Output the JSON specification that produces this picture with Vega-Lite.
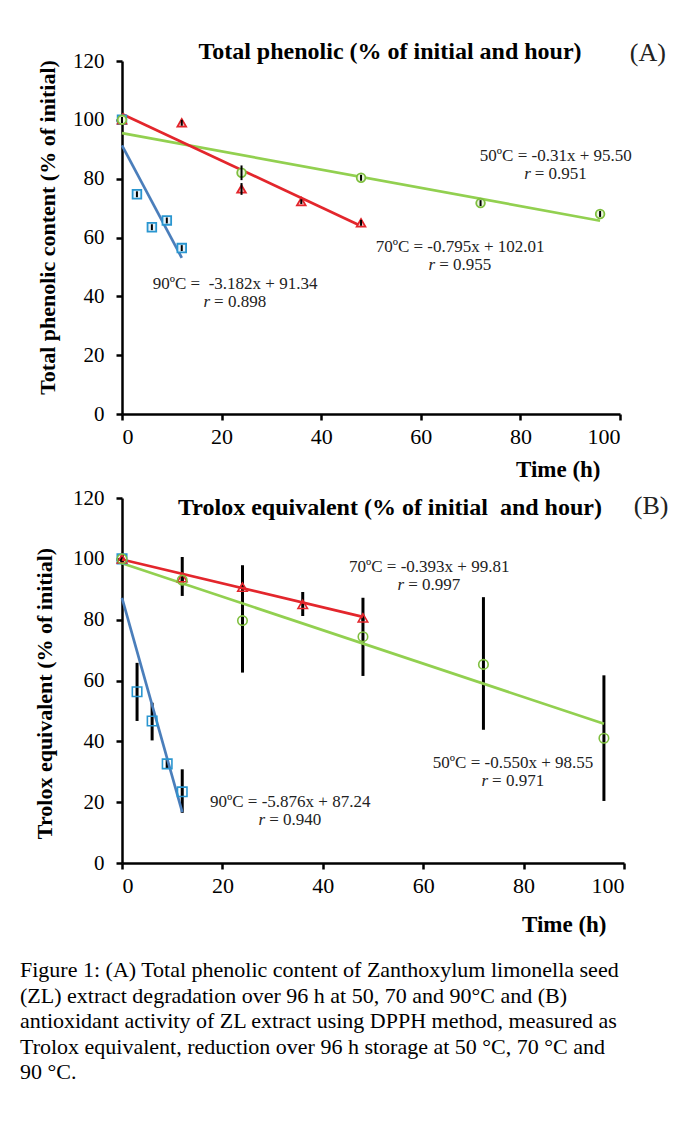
{
  "$schema": "https://vega.github.io/schema/vega-lite/v6.json",
  "background": "white",
  "padding": {"left": 20, "top": 40, "right": 0, "bottom": 0},
  "config": {
    "font": "Liberation Serif",
    "view": {"stroke": null},
    "axis": {
      "domainColor": "black", "domainWidth": 2.5, "tickColor": "black", "tickWidth": 2.5, "tickSize": 6,
      "labelColor": "black", "titleColor": "black", "grid": false,
      "labelFont": "Liberation Serif", "titleFont": "Liberation Serif"
    },
    "title": {"color": "black", "font": "Liberation Serif"},
    "text": {"font": "Liberation Serif"}
  },
  "datasets": {
    "tpc": [
      {"series": "90", "t": 0, "v": 100, "lo": 99, "hi": 101},
      {"series": "90", "t": 3, "v": 74.7, "lo": 73.7, "hi": 75.7},
      {"series": "90", "t": 6, "v": 63.5, "lo": 62.5, "hi": 64.5},
      {"series": "90", "t": 9, "v": 65.8, "lo": 64.8, "hi": 66.8},
      {"series": "90", "t": 12, "v": 56.4, "lo": 55.4, "hi": 57.4},
      {"series": "70", "t": 0, "v": 100, "lo": 99, "hi": 101},
      {"series": "70", "t": 12, "v": 99, "lo": 98, "hi": 100},
      {"series": "70", "t": 24, "v": 76.5, "lo": 74.5, "hi": 78.5},
      {"series": "70", "t": 36, "v": 72.2, "lo": 71.4, "hi": 73},
      {"series": "70", "t": 48, "v": 65, "lo": 64, "hi": 66},
      {"series": "50", "t": 0, "v": 100, "lo": 99, "hi": 101},
      {"series": "50", "t": 24, "v": 82, "lo": 79.5, "hi": 84.5},
      {"series": "50", "t": 48, "v": 80.3, "lo": 79.3, "hi": 81.3},
      {"series": "50", "t": 72, "v": 71.7, "lo": 70.7, "hi": 72.7},
      {"series": "50", "t": 96, "v": 68, "lo": 67, "hi": 69}
    ],
    "tpcFit": [
      {"series": "50", "t": 0, "v": 95.5},
      {"series": "50", "t": 96, "v": 65.7},
      {"series": "70", "t": 0, "v": 102},
      {"series": "70", "t": 48, "v": 63.9},
      {"series": "90", "t": 0, "v": 91.3},
      {"series": "90", "t": 12, "v": 53.1}
    ],
    "tpcNotes": [
      {"series": "50", "eq": "50ºC = -0.31x + 95.50", "r": "= 0.951", "t": 87.1, "v": 87.7},
      {"series": "70", "eq": "70ºC = -0.795x + 102.01", "r": "= 0.955", "t": 67.9, "v": 56.8},
      {"series": "90", "eq": "90ºC = \u00a0-3.182x + 91.34", "r": "= 0.898", "t": 22.7, "v": 44.2}
    ],
    "te": [
      {"series": "90", "t": 0, "v": 100, "lo": 99, "hi": 101},
      {"series": "90", "t": 3, "v": 56.3, "lo": 46.7, "hi": 65.8},
      {"series": "90", "t": 6, "v": 46.7, "lo": 40.3, "hi": 52.7},
      {"series": "90", "t": 9, "v": 32.6, "lo": 30.9, "hi": 34.2},
      {"series": "90", "t": 12, "v": 23.4, "lo": 16.5, "hi": 30.8},
      {"series": "70", "t": 0, "v": 100, "lo": 99, "hi": 101},
      {"series": "70", "t": 12, "v": 93.8, "lo": 87.8, "hi": 100.6},
      {"series": "70", "t": 24, "v": 90.7, "lo": 89.7, "hi": 91.7},
      {"series": "70", "t": 36, "v": 85, "lo": 81.2, "hi": 89.1},
      {"series": "70", "t": 48, "v": 80.6, "lo": 79.6, "hi": 81.6},
      {"series": "50", "t": 0, "v": 100, "lo": 99, "hi": 101},
      {"series": "50", "t": 12, "v": 93, "lo": 92, "hi": 94},
      {"series": "50", "t": 24, "v": 79.7, "lo": 62.6, "hi": 97.9},
      {"series": "50", "t": 48, "v": 74.4, "lo": 61.5, "hi": 87.2},
      {"series": "50", "t": 72, "v": 65.3, "lo": 43.8, "hi": 87.4},
      {"series": "50", "t": 96, "v": 41, "lo": 20.4, "hi": 61.7}
    ],
    "teFit": [
      {"series": "50", "t": 0, "v": 98.55},
      {"series": "50", "t": 96, "v": 45.75},
      {"series": "70", "t": 0, "v": 99.8},
      {"series": "70", "t": 48, "v": 80.9},
      {"series": "90", "t": 0, "v": 87.2},
      {"series": "90", "t": 12, "v": 16.7}
    ],
    "teNotes": [
      {"series": "70", "eq": "70ºC = -0.393x + 99.81", "r": "= 0.997", "t": 61.2, "v": 97.3},
      {"series": "90", "eq": "90ºC = -5.876x + 87.24", "r": "= 0.940", "t": 33.5, "v": 20.1},
      {"series": "50", "eq": "50ºC = -0.550x + 98.55", "r": "= 0.971", "t": 77.9, "v": 32.9}
    ]
  },
  "title": {
    "text": [
      "Figure 1: (A) Total phenolic content of Zanthoxylum limonella seed",
      "(ZL) extract degradation over 96 h at 50, 70 and 90°C and (B)",
      "antioxidant activity of ZL extract using DPPH method, measured as",
      "Trolox equivalent, reduction over 96 h storage at 50 °C, 70 °C and",
      "90 °C."
    ],
    "orient": "bottom", "anchor": "start", "frame": "bounds",
    "font": "Liberation Serif",
    "fontSize": 22, "fontWeight": "normal", "lineHeight": 25.5,
    "offset": 24, "dx": -13, "color": "black"
  },
  "spacing": 6,
  "vconcat": [
    {
      "width": 498, "height": 353,
      "title": {"text": "Total phenolic (% of initial and hour)", "font": "Liberation Serif", "fontSize": 24, "fontWeight": "bold", "frame": "group", "anchor": "middle", "dx": 19, "offset": -43, "baseline": "alphabetic"},
      "layer": [
        {
          "data": {"name": "tpcFit"},
          "mark": {"type": "line", "strokeWidth": 2.7},
          "encoding": {
            "x": {"field": "t", "type": "quantitative", "title": "Time (h)", "scale": {"domain": [0, 100], "nice": false},
                  "axis": {"values": [0, 20, 40, 60, 80, 100], "labelFont": "Liberation Serif", "titleFont": "Liberation Serif", "labelFontSize": 22, "labelPadding": 6, "titleFontSize": 23, "titleFontWeight": "bold", "titleAlign": "right", "titleAnchor": "end", "titleX": 478, "titleY": 55, "titleBaseline": "middle"}},
            "y": {"field": "v", "type": "quantitative", "title": "Total phenolic content (% of initial)", "scale": {"domain": [0, 120], "nice": false},
                  "axis": {"values": [0, 20, 40, 60, 80, 100, 120], "labelFont": "Liberation Serif", "titleFont": "Liberation Serif", "labelFontSize": 21, "labelPadding": 12, "titleFontSize": 22, "titleFontWeight": "bold", "titleAngle": -90, "titleAlign": "center", "titleBaseline": "middle", "titleX": -75, "titleY": 166}},
            "color": {"field": "series", "type": "nominal", "scale": {"domain": ["50", "70", "90"], "range": ["#92d050", "#e3262c", "#4a7ebb"]}, "legend": null},
            "detail": {"field": "series"}
          }
        },
        {
          "data": {"name": "tpc"},
          "mark": {"type": "point", "strokeWidth": 1.8, "opacity": 1},
          "encoding": {
            "x": {"field": "t", "type": "quantitative", "title": "Time (h)"},
            "y": {"field": "v", "type": "quantitative", "title": "Total phenolic content (% of initial)"},
            "shape": {"field": "series", "type": "nominal", "scale": {"domain": ["50", "70", "90"], "range": ["circle", "triangle-up", "square"]}, "legend": null},
            "stroke": {"field": "series", "type": "nominal", "scale": {"domain": ["50", "70", "90"], "range": ["#7fbf3f", "#e3262c", "#2a96d0"]}, "legend": null},
            "fill": {"field": "series", "type": "nominal", "scale": {"domain": ["50", "70", "90"], "range": ["#eaf5dc", "#f8c8c8", "#e6f2fa"]}, "legend": null},
            "size": {"value": 75}
          }
        },
        {
          "data": {"name": "tpc"},
          "mark": {"type": "rule", "color": "black", "strokeWidth": 2},
          "encoding": {
            "x": {"field": "t", "type": "quantitative", "title": "Time (h)"},
            "y": {"field": "lo", "type": "quantitative", "title": "Total phenolic content (% of initial)"},
            "y2": {"field": "hi"}
          }
        },
        {
          "data": {"name": "tpcNotes"},
          "mark": {"type": "text", "font": "Liberation Serif", "fontSize": 17, "align": "center", "baseline": "middle", "color": "#222222"},
          "encoding": {
            "x": {"field": "t", "type": "quantitative", "title": "Time (h)"},
            "y": {"field": "v", "type": "quantitative", "title": "Total phenolic content (% of initial)"},
            "text": {"field": "eq"}
          }
        },
        {
          "data": {"name": "tpcNotes"},
          "mark": {"type": "text", "font": "Liberation Serif", "fontSize": 17, "align": "right", "baseline": "middle", "fontStyle": "italic", "dx": -25, "dy": 18, "color": "#222222", "text": "r"},
          "encoding": {
            "x": {"field": "t", "type": "quantitative", "title": "Time (h)"},
            "y": {"field": "v", "type": "quantitative", "title": "Total phenolic content (% of initial)"}
          }
        },
        {
          "data": {"name": "tpcNotes"},
          "mark": {"type": "text", "font": "Liberation Serif", "fontSize": 17, "align": "left", "baseline": "middle", "dx": -21, "dy": 18, "color": "#222222"},
          "encoding": {
            "x": {"field": "t", "type": "quantitative", "title": "Time (h)"},
            "y": {"field": "v", "type": "quantitative", "title": "Total phenolic content (% of initial)"},
            "text": {"field": "r"}
          }
        },
        {
          "data": {"values": [{"label": "(A)"}]},
          "mark": {"type": "text", "font": "Liberation Serif", "fontSize": 26, "align": "center", "baseline": "middle", "color": "#222222"},
          "encoding": {
            "x": {"datum": 105.6, "type": "quantitative"},
            "y": {"datum": 122.7, "type": "quantitative"},
            "text": {"field": "label"}
          }
        }
      ]
    },
    {
      "width": 502, "height": 365,
      "title": {"text": "Trolox equivalent (% of initial \u00a0and hour)", "font": "Liberation Serif", "fontSize": 24, "fontWeight": "bold", "frame": "group", "anchor": "middle", "dx": 17, "offset": -52, "baseline": "alphabetic"},
      "layer": [
        {
          "data": {"name": "te"},
          "mark": {"type": "rule", "color": "black", "strokeWidth": 3},
          "encoding": {
            "x": {"field": "t", "type": "quantitative", "title": "Time (h)", "scale": {"domain": [0, 100], "nice": false},
                  "axis": {"values": [0, 20, 40, 60, 80, 100], "labelFont": "Liberation Serif", "titleFont": "Liberation Serif", "labelFontSize": 22, "labelPadding": 6, "titleFontSize": 23, "titleFontWeight": "bold", "titleAlign": "right", "titleAnchor": "end", "titleX": 484, "titleY": 61, "titleBaseline": "middle"}},
            "y": {"field": "lo", "type": "quantitative", "title": "Trolox equivalent (% of initial)", "scale": {"domain": [0, 120], "nice": false},
                  "axis": {"values": [0, 20, 40, 60, 80, 100, 120], "labelFont": "Liberation Serif", "titleFont": "Liberation Serif", "labelFontSize": 21, "labelPadding": 12, "titleFontSize": 22, "titleFontWeight": "bold", "titleAngle": -90, "titleAlign": "center", "titleBaseline": "middle", "titleX": -78, "titleY": 195}},
            "y2": {"field": "hi"}
          }
        },
        {
          "data": {"name": "teFit"},
          "mark": {"type": "line", "strokeWidth": 2.7},
          "encoding": {
            "x": {"field": "t", "type": "quantitative", "title": "Time (h)"},
            "y": {"field": "v", "type": "quantitative", "title": "Trolox equivalent (% of initial)"},
            "color": {"field": "series", "type": "nominal", "scale": {"domain": ["50", "70", "90"], "range": ["#92d050", "#e3262c", "#4a7ebb"]}, "legend": null},
            "detail": {"field": "series"}
          }
        },
        {
          "data": {"name": "te"},
          "mark": {"type": "point", "strokeWidth": 1.6, "opacity": 1, "fill": null},
          "encoding": {
            "x": {"field": "t", "type": "quantitative", "title": "Time (h)"},
            "y": {"field": "v", "type": "quantitative", "title": "Trolox equivalent (% of initial)"},
            "shape": {"field": "series", "type": "nominal", "scale": {"domain": ["50", "70", "90"], "range": ["circle", "triangle-up", "square"]}, "legend": null},
            "stroke": {"field": "series", "type": "nominal", "scale": {"domain": ["50", "70", "90"], "range": ["#7fbf3f", "#e3262c", "#4a7ebb"]}, "legend": null},
            "size": {"value": 90}
          }
        },
        {
          "data": {"name": "teNotes"},
          "mark": {"type": "text", "font": "Liberation Serif", "fontSize": 17, "align": "center", "baseline": "middle", "color": "#222222"},
          "encoding": {
            "x": {"field": "t", "type": "quantitative", "title": "Time (h)"},
            "y": {"field": "v", "type": "quantitative", "title": "Trolox equivalent (% of initial)"},
            "text": {"field": "eq"}
          }
        },
        {
          "data": {"name": "teNotes"},
          "mark": {"type": "text", "font": "Liberation Serif", "fontSize": 17, "align": "right", "baseline": "middle", "fontStyle": "italic", "dx": -25, "dy": 18, "color": "#222222", "text": "r"},
          "encoding": {
            "x": {"field": "t", "type": "quantitative", "title": "Time (h)"},
            "y": {"field": "v", "type": "quantitative", "title": "Trolox equivalent (% of initial)"}
          }
        },
        {
          "data": {"name": "teNotes"},
          "mark": {"type": "text", "font": "Liberation Serif", "fontSize": 17, "align": "left", "baseline": "middle", "dx": -21, "dy": 18, "color": "#222222"},
          "encoding": {
            "x": {"field": "t", "type": "quantitative", "title": "Time (h)"},
            "y": {"field": "v", "type": "quantitative", "title": "Trolox equivalent (% of initial)"},
            "text": {"field": "r"}
          }
        },
        {
          "data": {"values": [{"label": "(B)"}]},
          "mark": {"type": "text", "font": "Liberation Serif", "fontSize": 26, "align": "center", "baseline": "middle", "color": "#222222"},
          "encoding": {
            "x": {"datum": 105.4, "type": "quantitative"},
            "y": {"datum": 117.4, "type": "quantitative"},
            "text": {"field": "label"}
          }
        }
      ]
    }
  ]
}
